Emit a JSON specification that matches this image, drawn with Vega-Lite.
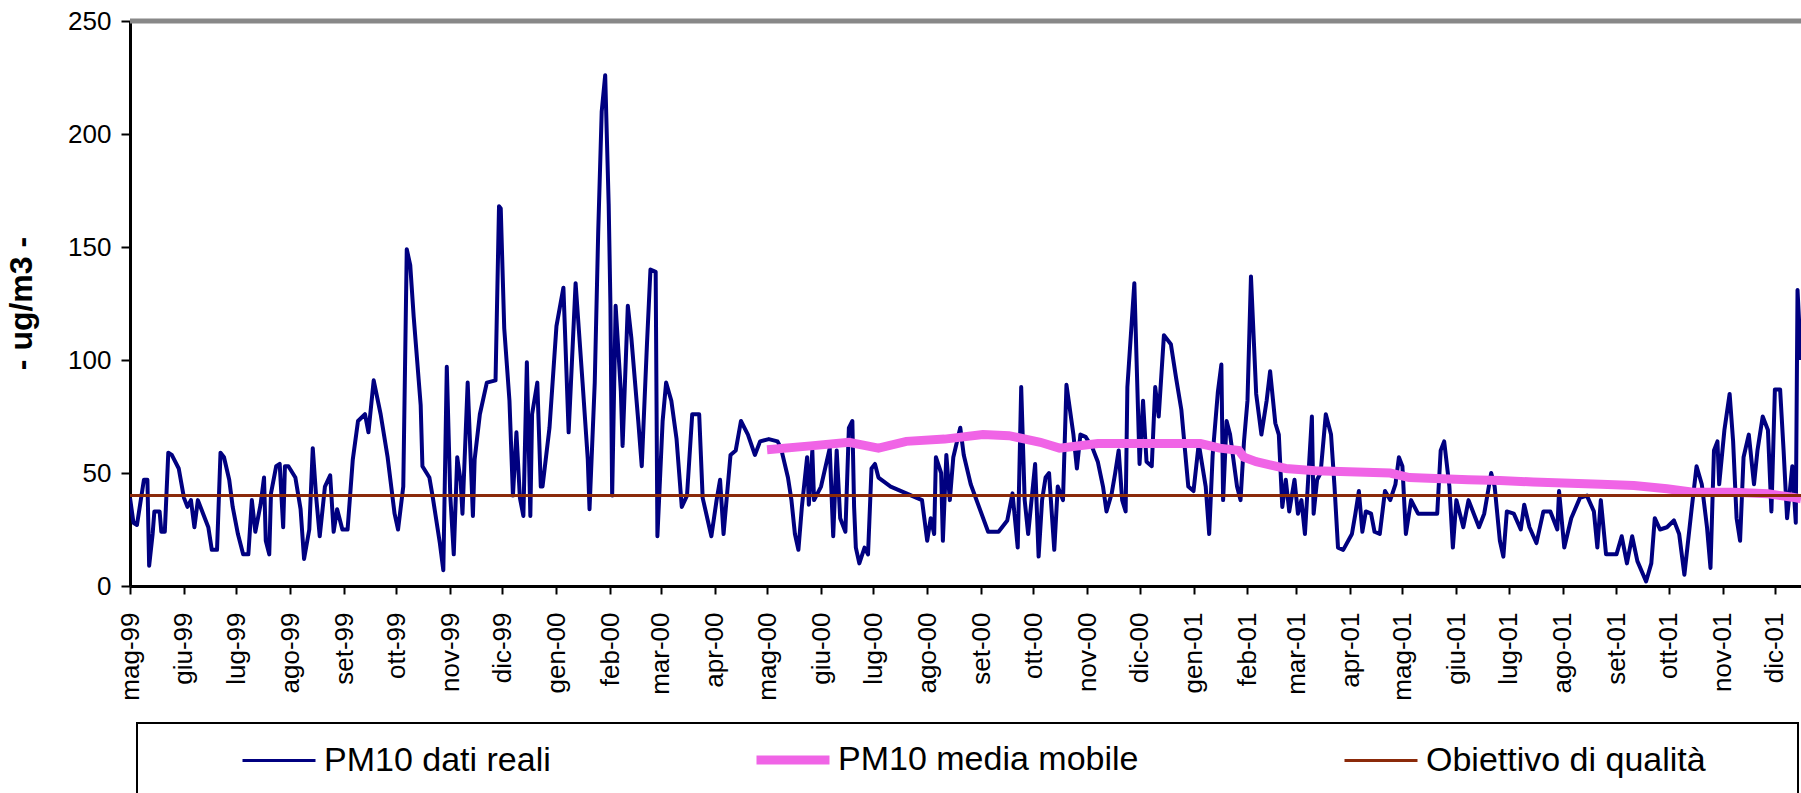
{
  "$schema": "https://vega.github.io/schema/vega-lite/v6.json",
  "width": 1671,
  "height": 565,
  "autosize": {"type": "none"},
  "padding": {"left": 130, "top": 21, "right": 0, "bottom": 207},
  "background": "white",
  "config": {
    "view": {"stroke": null},
    "font": "Liberation Sans",
    "axis": {"labelFont": "Liberation Sans", "titleFont": "Liberation Sans", "labelColor": "black", "titleColor": "black", "domainColor": "black", "tickColor": "black", "grid": false}
  },
  "datasets": {
    "reali": [
      {"date":"1999-05-01","value":39},{"date":"1999-05-03","value":28},{"date":"1999-05-05","value":27},{"date":"1999-05-09","value":47},{"date":"1999-05-11","value":47},{"date":"1999-05-12","value":9},{"date":"1999-05-14","value":23},{"date":"1999-05-15","value":33},{"date":"1999-05-18","value":33},{"date":"1999-05-19","value":24},{"date":"1999-05-21","value":24},{"date":"1999-05-23","value":59},{"date":"1999-05-25","value":58},{"date":"1999-05-29","value":52},
      {"date":"1999-06-01","value":39},{"date":"1999-06-03","value":35},{"date":"1999-06-05","value":38},{"date":"1999-06-07","value":26},{"date":"1999-06-09","value":38},{"date":"1999-06-12","value":32},{"date":"1999-06-15","value":26},{"date":"1999-06-17","value":16},{"date":"1999-06-20","value":16},{"date":"1999-06-22","value":59},{"date":"1999-06-24","value":57},{"date":"1999-06-27","value":47},{"date":"1999-06-29","value":35},
      {"date":"1999-07-02","value":23},{"date":"1999-07-05","value":14},{"date":"1999-07-08","value":14},{"date":"1999-07-10","value":38},{"date":"1999-07-12","value":24},{"date":"1999-07-15","value":36},{"date":"1999-07-17","value":48},{"date":"1999-07-18","value":20},{"date":"1999-07-20","value":14},{"date":"1999-07-21","value":41},{"date":"1999-07-24","value":53},{"date":"1999-07-26","value":54},{"date":"1999-07-28","value":26},{"date":"1999-07-29","value":53},{"date":"1999-07-31","value":53},
      {"date":"1999-08-04","value":48},{"date":"1999-08-07","value":34},{"date":"1999-08-09","value":12},{"date":"1999-08-12","value":25},{"date":"1999-08-14","value":61},{"date":"1999-08-16","value":39},{"date":"1999-08-18","value":22},{"date":"1999-08-21","value":44},{"date":"1999-08-24","value":49},{"date":"1999-08-26","value":24},{"date":"1999-08-28","value":34},{"date":"1999-08-31","value":25},
      {"date":"1999-09-03","value":25},{"date":"1999-09-06","value":56},{"date":"1999-09-09","value":73},{"date":"1999-09-13","value":76},{"date":"1999-09-15","value":68},{"date":"1999-09-18","value":91},{"date":"1999-09-22","value":76},{"date":"1999-09-26","value":57},{"date":"1999-09-30","value":32},
      {"date":"1999-10-02","value":25},{"date":"1999-10-05","value":44},{"date":"1999-10-07","value":149},{"date":"1999-10-09","value":142},{"date":"1999-10-11","value":119},{"date":"1999-10-15","value":80},{"date":"1999-10-16","value":53},{"date":"1999-10-20","value":48},{"date":"1999-10-22","value":39},{"date":"1999-10-26","value":19},{"date":"1999-10-28","value":7},{"date":"1999-10-30","value":97},
      {"date":"1999-11-01","value":40},{"date":"1999-11-03","value":14},{"date":"1999-11-05","value":57},{"date":"1999-11-07","value":46},{"date":"1999-11-08","value":32},{"date":"1999-11-11","value":90},{"date":"1999-11-14","value":31},{"date":"1999-11-15","value":56},{"date":"1999-11-18","value":76},{"date":"1999-11-22","value":90},{"date":"1999-11-27","value":91},{"date":"1999-11-29","value":168},
      {"date":"1999-11-30","value":167},{"date":"1999-12-02","value":114},{"date":"1999-12-05","value":82},{"date":"1999-12-07","value":40},{"date":"1999-12-09","value":68},{"date":"1999-12-11","value":39},{"date":"1999-12-13","value":31},{"date":"1999-12-15","value":99},{"date":"1999-12-17","value":31},{"date":"1999-12-18","value":76},{"date":"1999-12-21","value":90},{"date":"1999-12-23","value":44},{"date":"1999-12-24","value":44},{"date":"1999-12-28","value":70},
      {"date":"2000-01-01","value":115},{"date":"2000-01-05","value":132},{"date":"2000-01-08","value":68},{"date":"2000-01-12","value":134},{"date":"2000-01-16","value":90},{"date":"2000-01-19","value":56},{"date":"2000-01-20","value":34},{"date":"2000-01-23","value":90},{"date":"2000-01-25","value":157},{"date":"2000-01-27","value":210},{"date":"2000-01-29","value":226},{"date":"2000-01-31","value":169},
      {"date":"2000-02-01","value":125},{"date":"2000-02-02","value":40},{"date":"2000-02-04","value":124},{"date":"2000-02-07","value":86},{"date":"2000-02-08","value":62},{"date":"2000-02-11","value":124},{"date":"2000-02-13","value":110},{"date":"2000-02-17","value":73},{"date":"2000-02-19","value":53},{"date":"2000-02-22","value":107},{"date":"2000-02-24","value":140},{"date":"2000-02-27","value":139},{"date":"2000-02-28","value":22},
      {"date":"2000-03-02","value":73},{"date":"2000-03-04","value":90},{"date":"2000-03-07","value":82},{"date":"2000-03-10","value":65},{"date":"2000-03-13","value":35},{"date":"2000-03-16","value":40},{"date":"2000-03-19","value":76},{"date":"2000-03-23","value":76},{"date":"2000-03-25","value":39},{"date":"2000-03-30","value":22},
      {"date":"2000-04-02","value":38},{"date":"2000-04-04","value":47},{"date":"2000-04-06","value":23},{"date":"2000-04-10","value":58},{"date":"2000-04-13","value":60},{"date":"2000-04-16","value":73},{"date":"2000-04-20","value":67},{"date":"2000-04-24","value":58},{"date":"2000-04-27","value":64},
      {"date":"2000-05-02","value":65},{"date":"2000-05-07","value":64},{"date":"2000-05-09","value":61},{"date":"2000-05-13","value":48},{"date":"2000-05-15","value":38},{"date":"2000-05-17","value":23},{"date":"2000-05-19","value":16},{"date":"2000-05-21","value":35},{"date":"2000-05-24","value":57},{"date":"2000-05-25","value":36},{"date":"2000-05-27","value":60},{"date":"2000-05-28","value":38},
      {"date":"2000-06-01","value":44},{"date":"2000-06-06","value":61},{"date":"2000-06-08","value":22},{"date":"2000-06-10","value":60},{"date":"2000-06-12","value":30},{"date":"2000-06-15","value":24},{"date":"2000-06-17","value":70},{"date":"2000-06-19","value":73},{"date":"2000-06-20","value":35},{"date":"2000-06-21","value":17},{"date":"2000-06-23","value":10},{"date":"2000-06-26","value":17},{"date":"2000-06-28","value":14},{"date":"2000-06-30","value":52},
      {"date":"2000-07-02","value":54},{"date":"2000-07-04","value":48},{"date":"2000-07-11","value":44},{"date":"2000-07-20","value":41},{"date":"2000-07-29","value":38},
      {"date":"2000-08-01","value":20},{"date":"2000-08-03","value":30},{"date":"2000-08-05","value":23},{"date":"2000-08-06","value":57},{"date":"2000-08-09","value":50},{"date":"2000-08-10","value":20},{"date":"2000-08-12","value":58},{"date":"2000-08-14","value":38},{"date":"2000-08-16","value":57},{"date":"2000-08-20","value":70},{"date":"2000-08-22","value":58},{"date":"2000-08-26","value":45},
      {"date":"2000-09-05","value":24},{"date":"2000-09-11","value":24},{"date":"2000-09-16","value":29},{"date":"2000-09-19","value":41},{"date":"2000-09-22","value":17},{"date":"2000-09-24","value":88},{"date":"2000-09-26","value":38},{"date":"2000-09-28","value":23},
      {"date":"2000-10-02","value":54},{"date":"2000-10-04","value":13},{"date":"2000-10-06","value":38},{"date":"2000-10-08","value":48},{"date":"2000-10-10","value":50},{"date":"2000-10-13","value":16},{"date":"2000-10-15","value":44},{"date":"2000-10-18","value":38},{"date":"2000-10-20","value":89},{"date":"2000-10-24","value":67},{"date":"2000-10-26","value":52},{"date":"2000-10-28","value":67},{"date":"2000-10-31","value":66},
      {"date":"2000-11-04","value":61},{"date":"2000-11-07","value":55},{"date":"2000-11-10","value":44},{"date":"2000-11-12","value":33},{"date":"2000-11-15","value":41},{"date":"2000-11-17","value":50},{"date":"2000-11-19","value":60},{"date":"2000-11-21","value":38},{"date":"2000-11-23","value":33},{"date":"2000-11-24","value":88},{"date":"2000-11-28","value":134},
      {"date":"2000-12-01","value":54},{"date":"2000-12-03","value":82},{"date":"2000-12-05","value":55},{"date":"2000-12-08","value":53},{"date":"2000-12-10","value":88},{"date":"2000-12-12","value":75},{"date":"2000-12-15","value":111},{"date":"2000-12-19","value":107},{"date":"2000-12-22","value":92},{"date":"2000-12-25","value":78},{"date":"2000-12-29","value":44},
      {"date":"2001-01-01","value":42},{"date":"2001-01-04","value":63},{"date":"2001-01-08","value":44},{"date":"2001-01-10","value":23},{"date":"2001-01-12","value":58},{"date":"2001-01-15","value":86},{"date":"2001-01-17","value":98},{"date":"2001-01-18","value":38},{"date":"2001-01-20","value":73},{"date":"2001-01-22","value":67},{"date":"2001-01-26","value":44},{"date":"2001-01-28","value":38},{"date":"2001-01-30","value":64},
      {"date":"2001-02-01","value":82},{"date":"2001-02-03","value":137},{"date":"2001-02-06","value":85},{"date":"2001-02-09","value":67},{"date":"2001-02-12","value":82},{"date":"2001-02-14","value":95},{"date":"2001-02-17","value":72},{"date":"2001-02-19","value":67},{"date":"2001-02-21","value":35},{"date":"2001-02-23","value":47},{"date":"2001-02-25","value":33},{"date":"2001-02-28","value":47},
      {"date":"2001-03-02","value":32},{"date":"2001-03-04","value":38},{"date":"2001-03-06","value":23},{"date":"2001-03-10","value":75},{"date":"2001-03-11","value":32},{"date":"2001-03-13","value":47},{"date":"2001-03-15","value":50},{"date":"2001-03-18","value":76},{"date":"2001-03-21","value":67},{"date":"2001-03-23","value":44},{"date":"2001-03-25","value":17},{"date":"2001-03-28","value":16},
      {"date":"2001-04-02","value":23},{"date":"2001-04-04","value":32},{"date":"2001-04-06","value":42},{"date":"2001-04-08","value":24},{"date":"2001-04-10","value":33},{"date":"2001-04-13","value":32},{"date":"2001-04-15","value":24},{"date":"2001-04-18","value":23},{"date":"2001-04-21","value":42},{"date":"2001-04-24","value":38},{"date":"2001-04-27","value":45},{"date":"2001-04-29","value":57},
      {"date":"2001-05-01","value":53},{"date":"2001-05-03","value":23},{"date":"2001-05-06","value":38},{"date":"2001-05-10","value":32},{"date":"2001-05-21","value":32},{"date":"2001-05-23","value":60},{"date":"2001-05-25","value":64},{"date":"2001-05-28","value":44},{"date":"2001-05-30","value":17},
      {"date":"2001-06-01","value":38},{"date":"2001-06-05","value":26},{"date":"2001-06-08","value":38},{"date":"2001-06-11","value":32},{"date":"2001-06-14","value":26},{"date":"2001-06-17","value":32},{"date":"2001-06-21","value":50},{"date":"2001-06-23","value":44},{"date":"2001-06-26","value":20},{"date":"2001-06-28","value":13},{"date":"2001-06-30","value":33},
      {"date":"2001-07-04","value":32},{"date":"2001-07-08","value":25},{"date":"2001-07-10","value":36},{"date":"2001-07-13","value":26},{"date":"2001-07-17","value":19},{"date":"2001-07-21","value":33},{"date":"2001-07-25","value":33},{"date":"2001-07-29","value":25},{"date":"2001-07-30","value":42},
      {"date":"2001-08-02","value":17},{"date":"2001-08-06","value":30},{"date":"2001-08-11","value":39},{"date":"2001-08-15","value":40},{"date":"2001-08-19","value":33},{"date":"2001-08-21","value":17},{"date":"2001-08-23","value":38},{"date":"2001-08-26","value":14},
      {"date":"2001-09-01","value":14},{"date":"2001-09-04","value":22},{"date":"2001-09-07","value":10},{"date":"2001-09-10","value":22},{"date":"2001-09-13","value":11},{"date":"2001-09-18","value":2},{"date":"2001-09-21","value":10},{"date":"2001-09-23","value":30},{"date":"2001-09-26","value":25},{"date":"2001-09-30","value":26},
      {"date":"2001-10-04","value":29},{"date":"2001-10-07","value":23},{"date":"2001-10-10","value":5},{"date":"2001-10-14","value":33},{"date":"2001-10-17","value":53},{"date":"2001-10-20","value":45},{"date":"2001-10-23","value":26},{"date":"2001-10-25","value":8},{"date":"2001-10-27","value":60},{"date":"2001-10-29","value":64},{"date":"2001-10-30","value":45},
      {"date":"2001-11-02","value":69},{"date":"2001-11-05","value":85},{"date":"2001-11-07","value":64},{"date":"2001-11-09","value":30},{"date":"2001-11-11","value":20},{"date":"2001-11-13","value":57},{"date":"2001-11-16","value":67},{"date":"2001-11-19","value":45},{"date":"2001-11-21","value":60},{"date":"2001-11-24","value":75},{"date":"2001-11-27","value":69},{"date":"2001-11-29","value":33},
      {"date":"2001-12-01","value":87},{"date":"2001-12-04","value":87},{"date":"2001-12-06","value":60},{"date":"2001-12-08","value":30},{"date":"2001-12-11","value":53},{"date":"2001-12-13","value":28},{"date":"2001-12-14","value":131},{"date":"2001-12-16","value":100}
    ],
    "media": [
      {"date":"2000-05-01","value":60.3},{"date":"2000-05-26","value":62},{"date":"2000-06-17","value":63.6},{"date":"2000-07-04","value":61},{"date":"2000-07-20","value":64},{"date":"2000-08-11","value":65},{"date":"2000-09-02","value":67},{"date":"2000-09-17","value":66.5},{"date":"2000-10-05","value":63.6},{"date":"2000-10-16","value":61},{"date":"2000-11-07","value":63},{"date":"2001-01-05","value":63},{"date":"2001-01-16","value":61},{"date":"2001-01-27","value":60},{"date":"2001-01-30","value":57},{"date":"2001-02-06","value":55},{"date":"2001-02-23","value":52},{"date":"2001-03-12","value":51},{"date":"2001-04-24","value":50},{"date":"2001-05-05","value":48},{"date":"2001-06-08","value":47},{"date":"2001-06-26","value":46.7},{"date":"2001-07-15","value":46},{"date":"2001-08-23","value":45},{"date":"2001-09-11","value":44.5},{"date":"2001-09-30","value":43},{"date":"2001-10-15","value":41.5},{"date":"2001-11-07","value":41.5},{"date":"2001-11-27","value":40.8},{"date":"2001-12-11","value":39.3},{"date":"2001-12-16","value":38.6}
    ]
  },
  "layer": [
    {
      "data": {"values": [{}]},
      "mark": {"type": "rule", "color": "#888888", "strokeWidth": 5},
      "encoding": {"y": {"datum": 250, "type": "quantitative"}}
    },
    {
      "data": {"name": "reali"},
      "mark": {"type": "line", "strokeWidth": 4, "strokeJoin": "round", "clip": true},
      "encoding": {
        "x": {
          "field": "date", "type": "temporal",
          "scale": {"type": "utc", "domain": [{"year": 1999, "month": 5, "date": 1, "utc": true}, {"year": 2001, "month": 12, "date": 16, "utc": true}]},
          "axis": {
            "title": null,
            "values": [
              {"year":1999,"month":5,"date":1,"utc":true},{"year":1999,"month":6,"date":1,"utc":true},{"year":1999,"month":7,"date":1,"utc":true},{"year":1999,"month":8,"date":1,"utc":true},{"year":1999,"month":9,"date":1,"utc":true},{"year":1999,"month":10,"date":1,"utc":true},{"year":1999,"month":11,"date":1,"utc":true},{"year":1999,"month":12,"date":1,"utc":true},
              {"year":2000,"month":1,"date":1,"utc":true},{"year":2000,"month":2,"date":1,"utc":true},{"year":2000,"month":3,"date":1,"utc":true},{"year":2000,"month":4,"date":1,"utc":true},{"year":2000,"month":5,"date":1,"utc":true},{"year":2000,"month":6,"date":1,"utc":true},{"year":2000,"month":7,"date":1,"utc":true},{"year":2000,"month":8,"date":1,"utc":true},{"year":2000,"month":9,"date":1,"utc":true},{"year":2000,"month":10,"date":1,"utc":true},{"year":2000,"month":11,"date":1,"utc":true},{"year":2000,"month":12,"date":1,"utc":true},
              {"year":2001,"month":1,"date":1,"utc":true},{"year":2001,"month":2,"date":1,"utc":true},{"year":2001,"month":3,"date":1,"utc":true},{"year":2001,"month":4,"date":1,"utc":true},{"year":2001,"month":5,"date":1,"utc":true},{"year":2001,"month":6,"date":1,"utc":true},{"year":2001,"month":7,"date":1,"utc":true},{"year":2001,"month":8,"date":1,"utc":true},{"year":2001,"month":9,"date":1,"utc":true},{"year":2001,"month":10,"date":1,"utc":true},{"year":2001,"month":11,"date":1,"utc":true},{"year":2001,"month":12,"date":1,"utc":true}
            ],
            "labelExpr": "['gen','feb','mar','apr','mag','giu','lug','ago','set','ott','nov','dic'][utcmonth(datum.value)] + '-' + utcFormat(datum.value, '%y')",
            "labelAngle": 270,
            "labelFontSize": 26,
            "labelPadding": 18,
            "labelOverlap": false,
            "labelFlush": false,
            "labelBound": false,
            "tickSize": 8,
            "tickWidth": 2,
            "domainWidth": 3
          }
        },
        "y": {
          "field": "value", "type": "quantitative",
          "scale": {"domain": [0, 250], "nice": false, "zero": true},
          "axis": {
            "values": [0, 50, 100, 150, 200, 250],
            "labelFontSize": 26,
            "labelPadding": 10,
            "tickSize": 9,
            "tickWidth": 2,
            "domainWidth": 3,
            "labelFlush": false,
            "title": "- ug/m3 -",
            "titleFontSize": 32,
            "titleFontWeight": "bold",
            "titleAngle": 270,
            "titleX": -92,
            "titleY": 282,
            "titleAlign": "center",
            "titleBaseline": "bottom"
          }
        },
        "color": {
          "datum": "PM10 dati reali",
          "type": "nominal",
          "scale": {"domain": ["PM10 dati reali", "PM10 media mobile", "Obiettivo di qualità"], "range": ["#000080", "#F064E6", "#8B2A0A"]},
          "legend": {
            "orient": "none",
            "legendX": 7,
            "legendY": 702,
            "direction": "horizontal",
            "columns": 3,
            "title": "\u00a0",
            "titleOrient": "right",
            "titleFontSize": 10,
            "titlePadding": 72,
            "symbolType": "stroke",
            "symbolSize": 5329,
            "symbolStrokeWidth": 3,
            "symbolOffset": 105,
            "labelOffset": 28,
            "columnPadding": 120,
            "labelFont": "Liberation Sans",
            "labelFontSize": 34,
            "labelColor": "black",
            "labelLimit": 1000,
            "strokeColor": "black",
            "fillColor": "white",
            "padding": 20,
            "encode": {
              "legend": {"update": {"strokeWidth": {"value": 2}}},
              "symbols": {"update": {"strokeWidth": {"signal": "datum.value === 'PM10 media mobile' ? 9 : 3"}}}
            }
          }
        }
      }
    },
    {
      "data": {"name": "media"},
      "mark": {"type": "line", "strokeWidth": 9, "strokeCap": "butt", "clip": true},
      "encoding": {
        "x": {"field": "date", "type": "temporal"},
        "y": {"field": "value", "type": "quantitative"},
        "color": {"datum": "PM10 media mobile", "type": "nominal"}
      }
    },
    {
      "data": {"values": [{}]},
      "mark": {"type": "rule", "strokeWidth": 3},
      "encoding": {
        "y": {"datum": 40, "type": "quantitative"},
        "color": {"datum": "Obiettivo di qualità", "type": "nominal"}
      }
    }
  ]
}
